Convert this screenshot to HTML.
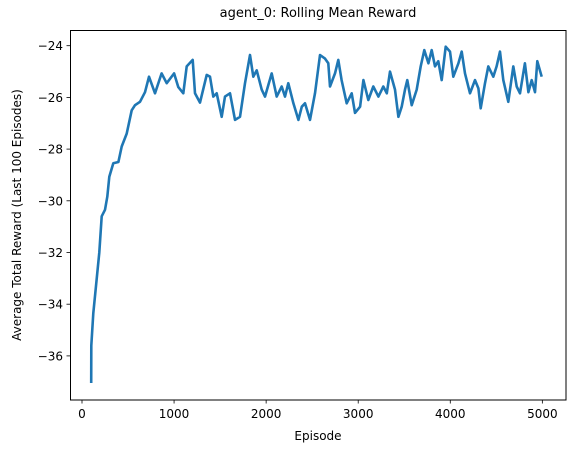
<!DOCTYPE html>
<html><head><meta charset="utf-8"><style>
body{margin:0;background:#fff;font-family:"Liberation Sans","DejaVu Sans",sans-serif}
svg text{font-family:"DejaVu Sans","Liberation Sans",sans-serif;fill:#000}
</style></head><body>
<svg id="chart" width="574" height="453" viewBox="0 0 574 453" xmlns="http://www.w3.org/2000/svg">
<rect width="574" height="453" fill="#fff"/>
<text x="318" y="17" font-size="13" text-anchor="middle">agent_0: Rolling Mean Reward</text>
<g id="plot"></g>
<rect x="70.5" y="30.5" width="495.5" height="369.5" fill="none" stroke="#000" stroke-width="1"/>
<text x="318" y="440" font-size="12" text-anchor="middle">Episode</text>
<text x="0" y="0" font-size="12" text-anchor="middle" transform="translate(21,215) rotate(-90)">Average Total Reward (Last 100 Episodes)</text>
</svg>
<script>
const episodes=[100,101,123,159,188,214,250,275,297,340,395,431,485,540,576,630,684,728,793,865,920,1000,1046,1100,1137,1202,1227,1282,1354,1390,1426,1463,1517,1553,1607,1662,1716,1770,1825,1861,1897,1952,1988,2060,2115,2169,2205,2241,2296,2350,2387,2422,2476,2531,2585,2639,2675,2694,2748,2784,2820,2875,2929,2965,3020,3056,3110,3164,3219,3273,3310,3345,3400,3436,3472,3508,3533,3581,3635,3679,3718,3762,3798,3834,3870,3907,3950,3997,4033,4088,4124,4160,4214,4269,4305,4330,4377,4413,4467,4503,4540,4576,4630,4685,4721,4757,4811,4848,4884,4920,4945,4993];
const rewards=[-37.05,-35.6,-34.35,-33.06,-32.0,-30.6,-30.35,-29.84,-29.07,-28.55,-28.5,-27.9,-27.4,-26.5,-26.3,-26.17,-25.8,-25.2,-25.84,-25.07,-25.45,-25.07,-25.6,-25.84,-24.8,-24.55,-25.84,-26.2,-25.13,-25.2,-25.97,-25.84,-26.75,-25.97,-25.84,-26.87,-26.75,-25.45,-24.36,-25.2,-24.95,-25.7,-25.97,-25.07,-25.97,-25.58,-25.97,-25.45,-26.23,-26.87,-26.36,-26.23,-26.87,-25.84,-24.36,-24.5,-24.68,-25.58,-25.07,-24.55,-25.33,-26.23,-25.84,-26.6,-26.36,-25.33,-26.1,-25.58,-25.97,-25.58,-25.84,-25.0,-25.7,-26.75,-26.36,-25.7,-25.33,-26.3,-25.7,-24.8,-24.17,-24.68,-24.17,-24.8,-24.6,-25.33,-24.04,-24.23,-25.2,-24.68,-24.23,-25.07,-25.84,-25.33,-25.65,-26.42,-25.45,-24.8,-25.2,-24.8,-24.23,-25.33,-26.17,-24.8,-25.58,-25.84,-24.68,-25.8,-25.33,-25.8,-24.6,-25.2];
const xTicks=[0,1000,2000,3000,4000,5000];
const yTicks=[-36,-34,-32,-30,-28,-26,-24];

const NS='http://www.w3.org/2000/svg';
const xScale=e=>82+e*0.09207;
const yScale=v=>45.7+(-24-v)*25.85;
const g=document.getElementById('plot');
function mk(t,a){const el=document.createElementNS(NS,t);for(const k in a)el.setAttribute(k,a[k]);g.appendChild(el);return el;}
xTicks.forEach(t=>{
  const x=xScale(t);
  const l=mk('line',{x1:x,x2:x,y1:400,y2:403.5,stroke:'#000','stroke-width':0.8});
  
  
  const tx=mk('text',{x:x,y:418,'font-size':12,'text-anchor':'middle'});
  
  
  tx.textContent=String(t);
});
yTicks.forEach(t=>{
  const y=yScale(t);
  const l=mk('line',{x1:66.5,x2:70,y1:y,y2:y,stroke:'#000','stroke-width':0.8});
  
  
  const tx=mk('text',{x:63,y:y+4.5,'font-size':12,'text-anchor':'end'});
  
  
  tx.textContent='\u2212'+Math.abs(t);
});
const d=episodes.map((e,i)=>(i?'L':'M')+xScale(e).toFixed(1)+','+yScale(rewards[i]).toFixed(1)).join('');
const p=mk('path',{d:d,fill:'none',stroke:'#1f77b4','stroke-width':2.6,'stroke-linejoin':'round'});


</script>
</body></html>
